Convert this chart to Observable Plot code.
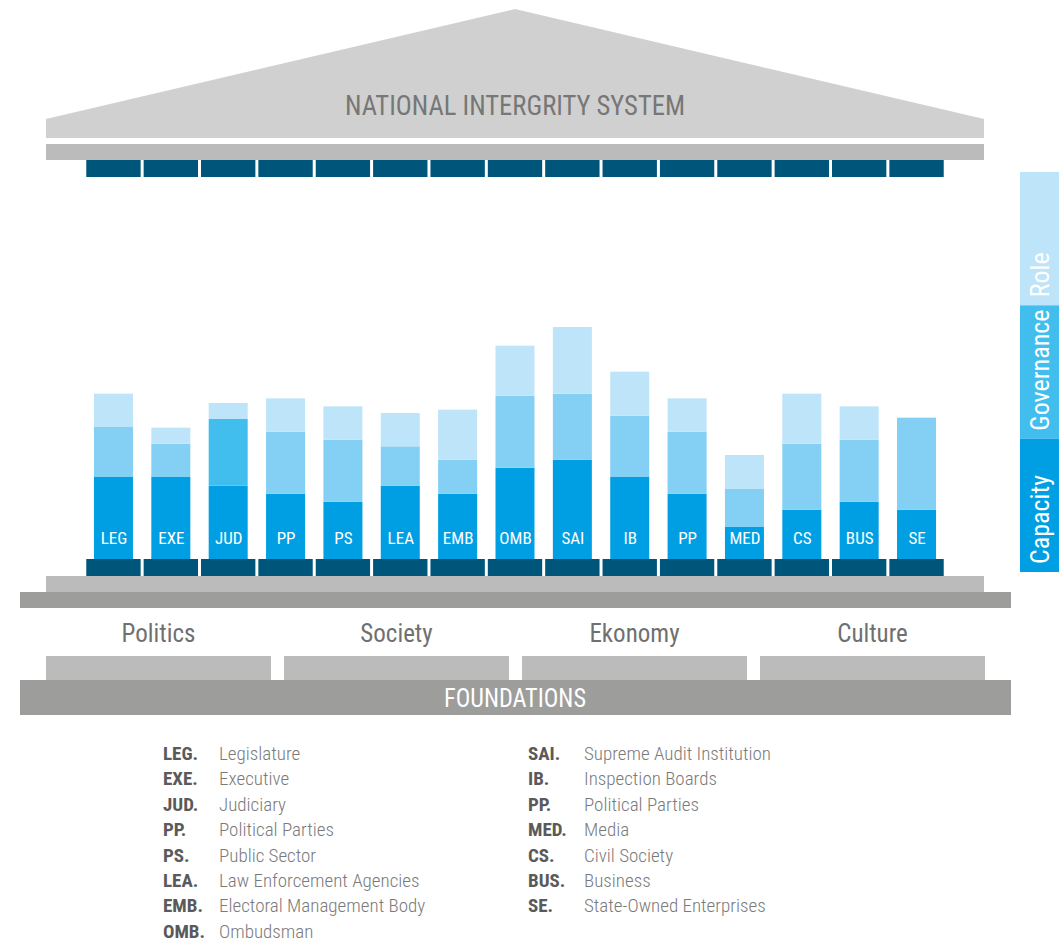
<!DOCTYPE html>
<html><head><meta charset="utf-8">
<script src="https://cdn.jsdelivr.net/npm/d3@7"></script>
<script src="https://cdn.jsdelivr.net/npm/@observablehq/plot@0.6"></script>
<style>
html,body{margin:0;padding:0;background:#fff;overflow:hidden}
#wrap{position:relative;width:1059px;height:945px}
#wrap svg{display:block}
.legend{position:absolute;left:0;top:725px;width:1059px;height:220px;font-family:"Liberation Sans Narrow","Roboto Condensed","DejaVu Sans Condensed",Roboto,sans-serif}
.row{position:absolute;height:25.4px;line-height:25.4px;font-size:19px;white-space:nowrap}
.ab{position:absolute;left:0;font-weight:bold;color:#5a5a5a}
.nm{position:absolute;left:56px;color:#7a7a7a;font-weight:300}
</style></head><body><div id="wrap"></div>
<script>
// ---- data ----
const codes = ["LEG","EXE","JUD","PP","PS","LEA","EMB","OMB","SAI","IB","PP","MED","CS","BUS","SE"];
const names = ["Legislature","Executive","Judiciary","Political Parties","Public Sector","Law Enforcement Agencies","Electoral Management Body","Ombudsman","Supreme Audit Institution","Inspection Boards","Political Parties","Media","Civil Society","Business","State-Owned Enterprises"];
const capacity   = [123,123,110, 98, 86,110, 98,137,149,123, 98, 48, 74, 86, 74];
const governance = [ 75, 50,100, 93, 93, 59, 51,108, 99, 92, 93, 57, 99, 93,138];
const role       = [ 50, 24, 24, 50, 50, 50, 75, 75,100, 66, 50, 51, 75, 50,  0];
const layers = ["Role","Governance","Capacity"];
const foundations = ["Politics","Society","Ekonomy","Culture"];
const title = "NATIONAL INTERGRITY SYSTEM";
const baseTitle = "FOUNDATIONS";

const FONT = '"Liberation Sans Narrow","Roboto Condensed","DejaVu Sans Condensed",Roboto,sans-serif';
const layerColor = {Capacity:"#009fe3", Governance:"#84cff4", Role:"#bee4f9"};
const legendColor = {Capacity:"#009fe3", Governance:"#41bdee", Role:"#bee4f9"};

const idx = d3.range(codes.length);
const rows = idx.flatMap(i => [
  {i, code: codes[i], layer: "Capacity", v: capacity[i]},
  {i, code: codes[i], layer: "Governance", v: governance[i]},
  {i, code: codes[i], layer: "Role", v: role[i]}
]);

const plot = Plot.plot({
  width: 1059, height: 725,
  marginTop: 0, marginBottom: 166, marginLeft: 75.6, marginRight: 104.6,
  x: {domain: idx, padding: 0.32, align: 0.5, round: false, axis: null},
  y: {domain: [0, 838.5], axis: null},
  style: {fontFamily: FONT, background: "transparent", overflow: "visible"},
  marks: [
    Plot.barY(rows, {x: "i", y: "v",
      fill: d => (d.layer === "Governance" && d.code === "JUD") ? legendColor.Governance : layerColor[d.layer]}),
    Plot.text(idx, {x: d => d, y: 0, dy: -21, text: d => codes[d], fill: "white", fontSize: 17})
  ]
});

document.getElementById("wrap").appendChild(plot);

// ---- temple decoration ----
const svg = d3.select(plot);
const xs = plot.scale("x"), ys = plot.scale("y");
const y0 = ys.apply(0);
const blockW = xs.step - 3;
const g = svg.insert("g", ":first-child").attr("text-anchor", "start");

g.append("polygon").attr("points", "46,138 46,119 515,9 984,119 984,138").attr("fill", "#d0d0d0");
g.append("text").attr("x", 515).attr("y", 115).attr("text-anchor", "middle")
  .attr("font-size", 28).attr("fill", "#777").attr("font-family", FONT)
  .attr("textLength", 340).attr("lengthAdjust", "spacingAndGlyphs").text(title);
g.append("rect").attr("x", 46).attr("y", 144).attr("width", 938).attr("height", 16).attr("fill", "#bbbbbb");

idx.forEach(i => {
  const cx = xs.apply(i) + xs.bandwidth / 2;
  g.append("rect").attr("x", cx - blockW / 2).attr("y", 160).attr("width", blockW).attr("height", 17).attr("fill", "#00557a");
  g.append("rect").attr("x", cx - blockW / 2).attr("y", y0).attr("width", blockW).attr("height", 17).attr("fill", "#00557a");
});

g.append("rect").attr("x", 46).attr("y", y0 + 17).attr("width", 938).attr("height", 16).attr("fill", "#bbbbbb");
g.append("rect").attr("x", 20).attr("y", y0 + 33).attr("width", 991).attr("height", 16).attr("fill", "#9d9d9c");

const fW = (939 - 3 * 13) / 4;
foundations.forEach((f, k) => {
  const left = 46 + k * (fW + 13);
  g.append("text").attr("x", left + fW / 2).attr("y", 642).attr("text-anchor", "middle")
    .attr("font-size", 25).attr("fill", "#707070").attr("font-family", FONT).text(f);
  g.append("rect").attr("x", left).attr("y", 656).attr("width", fW).attr("height", 24).attr("fill", "#bbbbbb");
});
g.append("rect").attr("x", 20).attr("y", 680).attr("width", 991).attr("height", 35).attr("fill", "#9d9d9c");
g.append("text").attr("x", 515).attr("y", 707).attr("text-anchor", "middle")
  .attr("font-size", 26).attr("fill", "#fff").attr("font-family", FONT)
  .attr("textLength", 142).attr("lengthAdjust", "spacingAndGlyphs").text(baseTitle);

// side legend
const segH = (572 - 172) / 3;
layers.forEach((l, k) => {
  const top = 172 + k * segH;
  g.append("rect").attr("x", 1020).attr("y", top).attr("width", 39).attr("height", segH).attr("fill", legendColor[l]);
});
layers.forEach((l, k) => {
  const top = 172 + k * segH;
  g.append("text").attr("transform", `translate(1049,${top + segH - 8}) rotate(-90)`)
    .attr("text-anchor", "start")
    .attr("font-size", 26).attr("fill", "#fff").attr("font-family", FONT).text(l);
});

// ---- abbreviation legend ----
const leg = document.createElement("div");
leg.className = "legend";
idx.forEach(i => {
  const col = i < 8 ? 0 : 1;
  const r = i < 8 ? i : i - 8;
  const row = document.createElement("div");
  row.className = "row";
  row.style.left = (col ? 528 : 163) + "px";
  row.style.top = (16 + r * 25.4) + "px";
  row.innerHTML = `<span class="ab">${codes[i]}.</span><span class="nm">${names[i]}</span>`;
  leg.appendChild(row);
});
document.getElementById("wrap").appendChild(leg);
</script>
</body></html>
